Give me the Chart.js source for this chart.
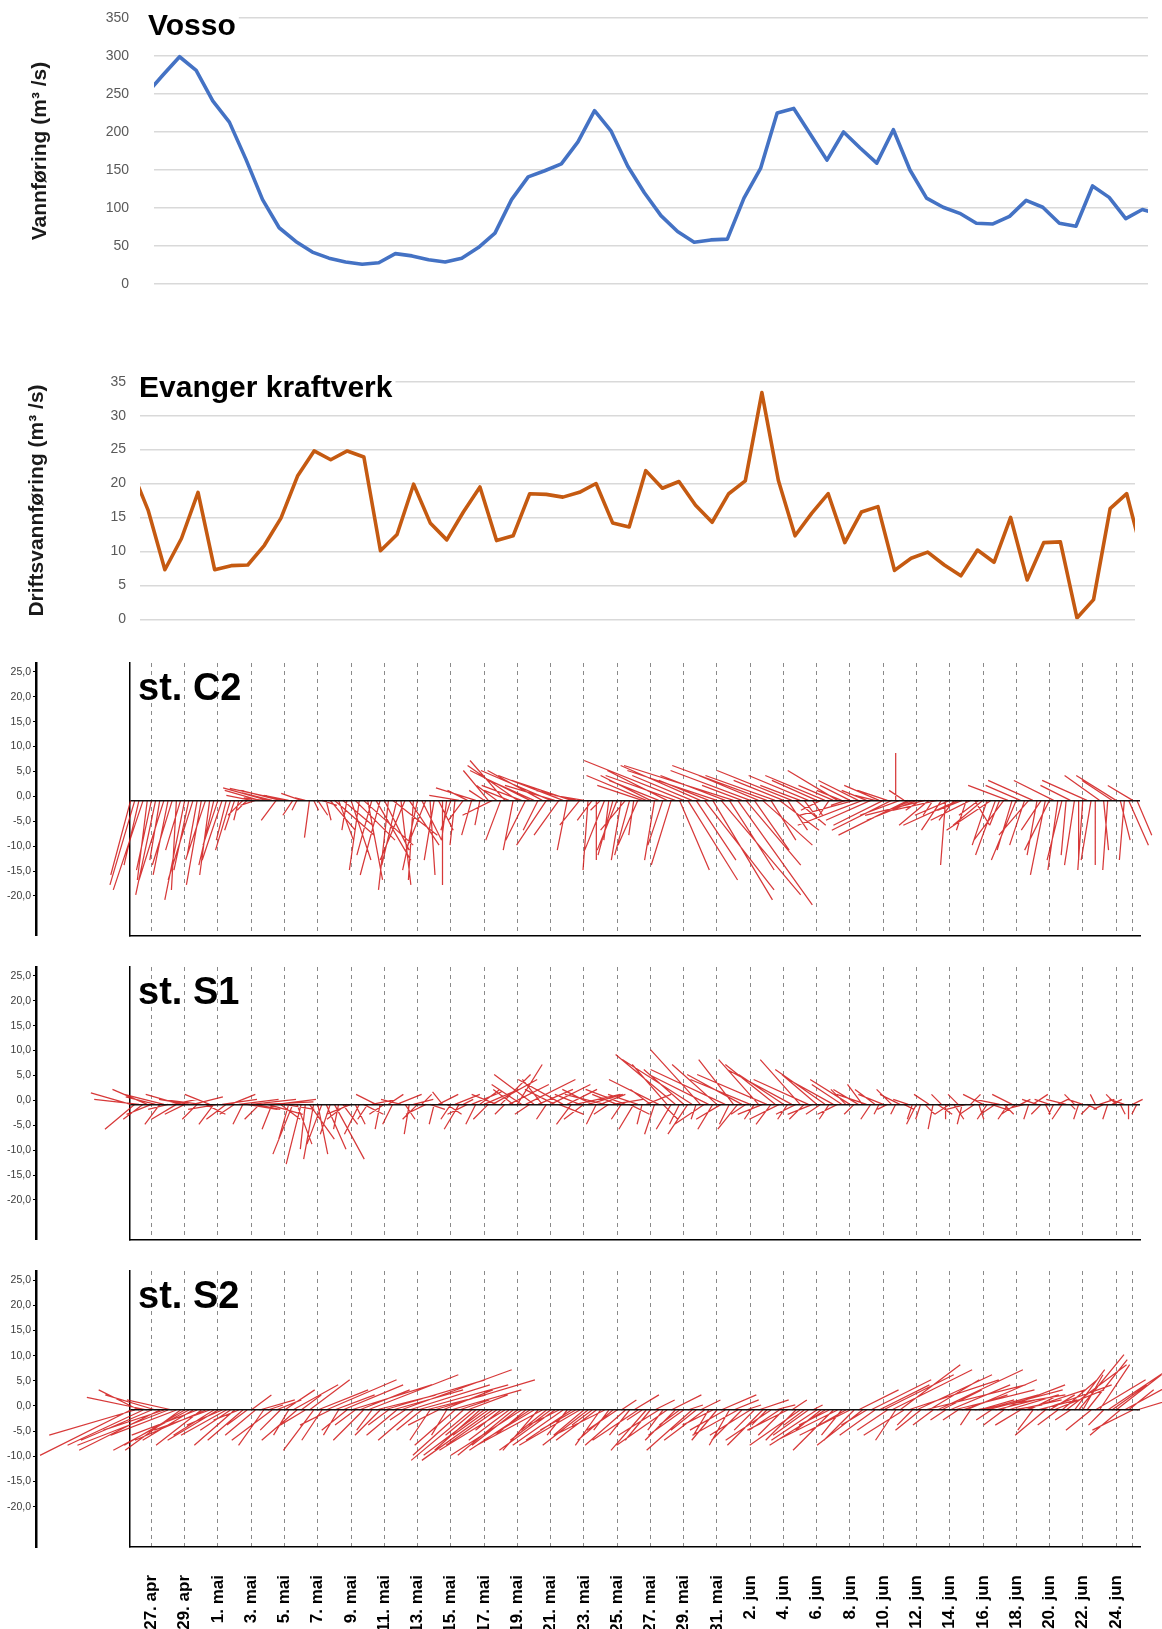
<!DOCTYPE html>
<html>
<head>
<meta charset="utf-8">
<script src="https://cdn.jsdelivr.net/npm/chart.js@4.4.1/dist/chart.umd.min.js"></script>
<style>
  html, body { margin: 0; padding: 0; background: #fff; }
  #page { position: relative; width: 1162px; height: 1629px; overflow: hidden; background: #fff; }
  #page canvas { position: absolute; left: 0; }
</style>
</head>
<body>
<div id="page">
  <canvas id="vosso" width="1162" height="300" style="top:0px"></canvas>
  <canvas id="evanger" width="1162" height="330" style="top:300px"></canvas>
  <canvas id="c2" width="1162" height="304" style="top:640px"></canvas>
  <canvas id="s1" width="1162" height="304" style="top:944px"></canvas>
  <canvas id="s2" width="1162" height="381" style="top:1248px"></canvas>
</div>
<script>
// ---- River discharge (daily values, day index -1 .. 60) ----
const vossoFlow = [250,275,299,281,241,213,164,111,74,56,42,34,29,26,28,40,37,32,29,34,48,67,111,141,149,158,187,228,201,155,120,90,69,55,58,59,113,152,225,231,197,163,200,179,159,203,150,113,101,93,80,79,89,110,101,80,76,129,114,86,98,92];
const evangerFlow = [22,16,7.3,11.9,18.7,7.3,7.9,8.0,10.9,14.9,21.1,24.8,23.5,24.8,23.9,10.1,12.5,19.9,14.2,11.7,15.8,19.5,11.6,12.3,18.5,18.4,18.0,18.7,20.0,14.2,13.6,21.9,19.3,20.3,16.8,14.3,18.5,20.4,33.4,20.4,12.3,15.6,18.5,11.3,15.8,16.6,7.2,9.0,9.9,8.0,6.4,10.2,8.4,15.0,5.8,11.3,11.4,0.2,2.9,16.3,18.5,9];
const flowDay = vossoFlow.map((_, i) => i - 1);

// ---- Current vectors [east, north], every 6 h from day -1.25 (day 0 = 27. apr) ----
const STICK_T0 = -1.25;
const STICK_STEP = 0.25;
const c2Current = [
  [-4,-15],[-5,-17],[-3,-13],[-6,-18],[-2,-16],
  [-3,-14],[-4,-19],[-2,-12],[-5,-16],[-3,-15],[-4,-13],[-1,-18],[-3,-10],
  [-4,-20],[-3,-14],[-5,-16],[-2,-11],[-3,-17],[-4,-12],[-2,-15],[-3,-13],
  [-3,-9],[-4,-12],[-2,-8],[-3,-10],[-2,-6],[-1,-4],[-3,-3],[-2,-2],
  [-5,1],[-3,-1],[-7,2],[-4,0.5],[-9,2.5],[-6,1.5],[-3,-4],[-8,2],
  [-11,2.4],[-5,1],[-2,-3],[-1,-2],[-4,1.4],[-2,0.5],[-1,-7.5],[1,-2],
  [2,-3],[3,-1],[1,-4],[5,-6],[8,-7],[3,-8],[6,-5],[-1,-6],
  [4,-12],[8,-8],[-2,-14],[10,-9],[3,-16],[-3,-11],[7,-12],[-4,-15],
  [5,-10],[-2,-18],[9,-7],[-3,-13],[2,-17],[-5,-12],[6,-9],[-1,-16],
  [-3,-14],[4,-8],[-4,-10],[1,-15],[-2,-12],[3,-6],[0,-17],[-1,-8],
  [-2,-6],[-1,-9],[-6,1],[-3,-4],[-4,2],[-2,-7],[-8,2.5],[-1,-5],
  [-3,2],[-5,6],[-6,-3],[-4,3],[-3,-8],[-7,8],[-5,2],[-2,-10],
  [-10,7],[-8,3],[-4,-8],[-12,6],[-9,4],[-3,-6],[-11,6],[-6,-9],
  [-14,6],[-10,3],[-5,-7],[-13,5],[-2,-10],[-12,4],[-8,2],[-4,-5],
  [-6,1],[-1,-14],[-3,-4],[0,-12],[-2,-2],[-4,-10],[-1,-8],[-3,-11],
  [-4,-10],[-2,-12],[-5,-6],[-3,-11],[-1,-7],[-4,-9],[-9,3],[-12,5],
  [-10,5],[-2,-12],[-10,4],[-3,-9],[-12,6],[-4,-13],[-14,5],[6,-14],
  [-20,8],[10,-16],[-12,5],[8,-12],[-16,7],[14,-18],[-10,4],[12,-20],
  [-18,6],[16,-19],[-13,5],[9,-14],[-22,7],[15,-21],[-8,3],[11,-13],
  [-16,6],[7,-10],[-12,5],[10,-9],[-19,7],[5,-8],[-14,5],[8,-6],
  [-10,4],[4,-6],[-15,6],[6,-5],[-8,3],[3,-4],[-12,5],[2,-3],
  [-9,4],[-4,-2],[-12,5],[-2,-3],[-7,3],[-10,6],[-5,2],[-3,-1],
  [-6,3],[-11,-3],[-8,4],[-13,-5],[-5,2],[-9,-4],[-4,1],[-7,3],
  [-10,-5],[-6,2],[-12,-6],[0,9.5],[-8,-3],[-3,2],[-14,-7],[-5,-2],
  [-10,-4],[-3,-2],[-12,-3],[-6,-5],[-2,-3],[-9,-2],[-4,-6],[-1,-13],
  [-7,-3],[-3,-4],[-11,-5],[-5,-2],[-2,-6],[-8,-4],[3,-5],[-4,-3],
  [-6,-5],[-3,-9],[-9,-6],[-4,-11],[-2,-5],[-6,-8],[-8,3],[-3,-10],
  [-5,-12],[-7,3],[-3,-9],[-6,-7],[-9,4],[-2,-11],[-4,-6],[-3,-15],
  [-5,-10],[-8,4],[-2,-14],[-3,-12],[-1,-11],[-6,3],[-2,-13],[0,-12],
  [-1,-14],[-9,4],[-2,-12],[0,-13],[-7,5],[1,-10],[-1,-14],[-6,4],
  [-8,5],[2,-8],[-1,-12],[4,-9],[-5,3],[3,-7]
];
const s1Current = [
  [-8,2.3],[-6,-5],[-9,1],[-4,-3],[-7,3],
  [-5,-2],[-6,1.5],[-3,-4],[-8,2],[-4,-1],[5,1],[-5,-3],[-7,2],
  [-4,-2],[-6,1],[6,1.5],[-3,-3],[-8,1],[4,-2],[-5,2],[-3,-4],
  [-6,-1],[7,1],[-4,-3],[5,2],[-3,-2],[8,1],[-2,-4],[6,-1],
  [9,1],[5,-1],[-3,-3],[10,0.5],[7,-2],[-2,-5],[8,1],[4,-3],
  [6,-1],[-2,-7],[-4,-10],[3,-8],[-3,-12],[-1,-9],[5,-7],[-2,-11],
  [2,-10],[-3,-8],[4,-9],[-2,-6],[6,-11],[-1,-5],[3,-4],[-4,-3],
  [-5,-2],[2,-4],[-3,-6],[4,-2],[-2,-3],[5,1],[-4,2],[-1,-5],
  [-3,-2],[3,2],[-2,-4],[5,2],[-4,1],[2,-3],[-1,-6],[4,1],
  [-3,-3],[2,2],[-4,-2],[3,-1],[-1,-4],[4,2],[-2,2.5],[3,-2],
  [-2,-3],[5,2],[-3,-5],[2,1],[-4,-2],[6,2.5],[-2,-4],[4,3],
  [7,3],[-3,-3],[9,5],[-5,2],[6,6],[-2,-2],[8,4],[-4,3],
  [5,8],[-6,4],[10,5],[-3,-2],[-8,6],[7,3],[-4,5],[-2,-3],
  [8,4],[-6,3],[5,-2],[-9,5],[6,3],[-3,-4],[9,2],[-5,2],
  [-4,-3],[7,2],[-6,3],[-2,-4],[5,2],[-8,2],[-3,-2],[6,1],
  [-5,2],[-2,-3],[-8,3],[4,-2],[-3,-5],[-6,2],[-1,-4],[5,2],
  [-4,3],[-2,-6],[-10,5],[3,-3],[-7,8],[-3,-5],[-12,10],[-2,-4],
  [-8,7],[-4,-6],[-14,9],[-1,-3],[-10,11],[-6,-4],[-12,6],[-3,-5],
  [-9,8],[-5,-3],[-15,7],[-2,-4],[-7,9],[-4,-5],[-11,6],[-3,-2],
  [-12,5],[-2,-3],[-8,9],[-5,-2],[-14,6],[-3,-4],[-10,8],[-6,-3],
  [-9,6],[-2,-3],[-13,7],[-4,-2],[-8,9],[-3,-3],[-11,5],[-5,-2],
  [-7,6],[-3,-2],[-10,7],[-2,-3],[-9,5],[-4,-2],[-6,4],[-3,3],
  [-8,5],[-2,-2],[-5,3],[-3,4],[-6,2],[-2,-3],[-4,3],[-1,-2],
  [-5,2],[-2,-1],[-3,3],[-1,-2],[-4,2],[2,-1],[-3,1],[-1,-3],
  [-2,-4],[-1,-3],[2,-2],[-3,2],[-1,-5],[3,-2],[-2,2],[0,-3],
  [-3,-2],[2,-3],[-2,2],[-1,-4],[-4,-1],[2,2],[-3,-2],[1,-3],
  [-4,2],[-2,-3],[3,-1],[-3,-2],[-5,1],[2,-2],[-2,-3],[-4,2],
  [-3,-2],[2,1],[-4,-1],[-1,-3],[3,2],[-3,1],[-2,-2],[1,-2],
  [-3,1],[-1,-2],[2,1],[-2,-3],[-4,1],[1,-1],[-2,2],[-1,-3],
  [-3,1],[2,-1],[-2,-2],[-1,2],[3,1],[-2,-1],[-1,-3],[2,1],
  [-2,2],[1,-2],[-3,1],[0,-3],[2,1],[-1,-2]
];
const s2Current = [
  [-18,-9],[-17,-5],[-8,4],[-15,-7],[-12,2.5],
  [-14,-6],[-10,3],[-16,-8],[-12,-4],[-18,-7],[-9,2],[-13,-5],[-11,-8],
  [-12,-7],[-15,-8],[-10,-6],[-13,-5],[-9,-7],[-14,-6],[-11,-4],[-8,-5],
  [-10,-6],[-7,-3],[-9,-5],[-6,-4],[-8,-7],[-5,-2],[-7,-6],[-4,-3],
  [4,3],[-6,-5],[7,2],[-5,-7],[3,1],[-8,-6],[5,2],[-4,-4],
  [6,4],[-3,-5],[9,5],[-7,-6],[4,3],[-5,-3],[8,6],[-6,-8],
  [10,4],[-4,-6],[14,6],[-6,-3],[8,3],[-3,-5],[12,5],[-5,-4],
  [16,5],[-4,-3],[10,4],[-6,-6],[18,7],[-3,-4],[12,3],[-5,-5],
  [20,6],[-4,-3],[14,4],[-6,-5],[22,8],[-3,-2],[16,5],[-7,-6],
  [18,5],[-5,-4],[12,3],[-4,-6],[20,6],[-6,-3],[10,4],[-3,-5],
  [14,4],[-8,-7],[6,2],[-10,-9],[8,3],[-12,-10],[-6,-5],[-9,-8],
  [-12,-9],[-7,-5],[-14,-10],[-10,-7],[-5,-4],[-13,-8],[-8,-6],[-11,-9],
  [-9,-7],[-14,-9],[-6,-5],[-12,-8],[-10,-6],[-7,-8],[-13,-7],[-5,-4],
  [-8,-6],[-11,-8],[-6,-3],[-10,-7],[-4,-5],[-9,-6],[-7,-4],[-12,-7],
  [-6,-5],[-9,-7],[-4,-3],[-8,-6],[-5,-7],[-10,-5],[-3,-4],[-7,-6],
  [-6,-4],[3,2],[-8,-7],[-4,-5],[5,3],[-9,-6],[-3,-2],[-7,-8],
  [-5,-6],[4,2],[-8,-5],[-3,-4],[-10,-7],[6,3],[-6,-6],[-4,-3],
  [-7,-5],[3,1],[-9,-8],[-5,-4],[4,2],[-8,-6],[-3,-5],[-6,-3],
  [-5,-6],[7,3],[-7,-4],[-4,-7],[5,2],[-9,-5],[-6,-6],[3,1],
  [-8,-5],[-4,-4],[6,2],[-7,-7],[-3,-3],[-9,-6],[4,1],[-6,-4],
  [-5,-5],[-8,-4],[3,2],[-6,-6],[-10,-7],[-4,-3],[-7,-5],[2,1],
  [-9,-6],[-5,-4],[-11,-7],[-6,-3],[-8,-8],[-12,-6],[-4,-5],[-7,-4],
  [-10,-5],[-6,-6],[8,4],[-9,-7],[-5,-3],[12,6],[-7,-5],[10,5],
  [14,7],[-6,-4],[16,8],[-4,-6],[12,9],[-8,-5],[18,6],[-3,-3],
  [15,7],[-5,-4],[20,5],[10,6],[-4,-3],[17,8],[8,4],[-3,-2],
  [12,5],[16,4],[-3,-2],[9,3],[14,6],[-2,-3],[18,3],[7,2],
  [11,3],[15,4],[-3,-2],[8,2],[13,5],[-4,-3],[10,3],[6,1],
  [9,2],[-5,-3],[12,4],[6,3],[-3,-4],[8,2],[14,5],[-6,-5],
  [5,3],[10,4],[-4,-3],[7,6],[12,9],[-3,-2],[6,8],[9,11],
  [4,7],[8,10],[-5,-4],[10,6],[6,9],[-3,-3],[12,8],[7,5],
  [9,7],[-6,-5],[11,6],[5,4],[-8,-4],[10,3]
];

// ---- Date axis labels, every second day from 27. apr ----
const stickDateLabels = ['27. apr','29. apr','1. mai','3. mai','5. mai','7. mai','9. mai','11. mai','13. mai','15. mai','17. mai','19. mai','21. mai','23. mai','25. mai','27. mai','29. mai','31. mai','2. jun','4. jun','6. jun','8. jun','10. jun','12. jun','14. jun','16. jun','18. jun','20. jun','22. jun','24. jun'];
const stickAxisTicks = [-20,-15,-10,-5,0,5,10,15,20,25];

const FONT = '"Liberation Sans", Arial, Helvetica, sans-serif';
Chart.defaults.font.family = FONT;

// Bold panel heading, optionally knocking out the grid line behind it
const panelTitle = {
  id: 'panelTitle',
  afterDraw(chart, args, o) {
    if (!o || !o.text) return;
    const ctx = chart.ctx;
    ctx.save();
    ctx.font = `bold ${o.size}px ${FONT}`;
    if (o.clear) {
      const w = ctx.measureText(o.text).width;
      ctx.fillStyle = '#fff';
      ctx.fillRect(chart.chartArea.left, o.y - o.size * 0.8, o.x - chart.chartArea.left + w + 3, o.size);
    }
    ctx.fillStyle = '#000';
    ctx.textBaseline = 'alphabetic';
    ctx.textAlign = 'left';
    ctx.fillText(o.text, o.x, o.y);
    ctx.restore();
  }
};

function flowChart(id, values, cfg) {
  return new Chart(document.getElementById(id), {
    type: 'line',
    data: {
      datasets: [{
        data: values.map((v, i) => ({ x: flowDay[i], y: v })),
        borderColor: cfg.color,
        borderWidth: 3.6,
        pointRadius: 0,
        tension: 0,
        borderJoinStyle: 'round',
        borderCapStyle: 'round'
      }]
    },
    options: {
      responsive: false,
      animation: false,
      devicePixelRatio: 1,
      events: [],
      layout: { padding: { left: 0, top: cfg.top, right: cfg.right, bottom: cfg.bottom } },
      plugins: {
        legend: { display: false },
        tooltip: { enabled: false },
        panelTitle: { text: cfg.title, x: cfg.titleX, y: cfg.titleY, size: 30, clear: true }
      },
      scales: {
        x: { type: 'linear', display: false, min: cfg.xMin, max: cfg.xMax },
        y: {
          min: 0, max: cfg.yMax,
          ticks: { stepSize: cfg.step, color: '#595959', font: { size: 14 }, padding: 0 },
          // invisible tick marks keep the labels clear of the plot edge
          grid: { color: '#d9d9d9', lineWidth: 1.4, drawTicks: true, tickLength: cfg.labelGap, tickColor: 'rgba(0,0,0,0)' },
          border: { display: false },
          title: {
            display: true, text: cfg.yTitle, color: '#1a1a1a',
            font: { size: 21, weight: 'bold' },
            padding: { top: cfg.yTitleX - 12.6, bottom: 0 }
          },
          afterFit: (s) => { s.width = cfg.left; }
        }
      }
    },
    plugins: [panelTitle]
  });
}

flowChart('vosso', vossoFlow, {
  color: '#4472C4', top: 18, bottom: 16, left: 154, right: 14,
  xMin: -0.54, xMax: 59.34, yMax: 350, step: 50, labelGap: 25,
  yTitle: 'Vannføring (m³ /s)', yTitleX: 40,
  title: 'Vosso', titleX: 148, titleY: 35
});

flowChart('evanger', evangerFlow, {
  color: '#C55A11', top: 81.7, bottom: 10.7, left: 140, right: 27,
  xMin: -0.5, xMax: 59.5, yMax: 35, step: 5, labelGap: 14,
  yTitle: 'Driftsvannføring (m³ /s)', yTitleX: 37.5,
  title: 'Evanger kraftverk', titleX: 139, titleY: 97
});

// ---- Current stick plots ----
const BASE = -0.8;       // level of the zero line on the velocity axis
const V_MIN = -28, V_MAX = 26.8;
const T_MIN = -1.29, T_MAX = 59.44;

function stickChart(id, vectors, title, showDates) {
  const canvas = document.getElementById(id);
  const xHeight = showDates ? canvas.height - 299 : 0;
  const chart = new Chart(canvas, {
    type: 'line',
    data: {
      datasets: [{
        data: [],
        xAxisID: 'x', yAxisID: 'y',
        borderColor: 'rgba(208,22,22,0.85)',
        borderWidth: 1.25,
        pointRadius: 0,
        tension: 0,
        spanGaps: false,
        clip: false,
        normalized: false
      }]
    },
    options: {
      responsive: false,
      animation: false,
      devicePixelRatio: 1,
      events: [],
      layout: { padding: { left: 0, top: 23, right: 22, bottom: showDates ? 0 : 5 } },
      plugins: {
        legend: { display: false },
        tooltip: { enabled: false },
        panelTitle: { text: title, x: 138, y: 60, size: 38 }
      },
      scales: {
        x: {
          type: 'linear', min: T_MIN, max: T_MAX,
          afterBuildTicks: (s) => {
            const t = stickDateLabels.map((_, i) => ({ value: i * 2 }));
            t.push({ value: 59 });
            s.ticks = t;
          },
          ticks: {
            display: showDates, autoSkip: false, maxRotation: 90, minRotation: 90,
            color: '#000', font: { size: 17, weight: 'bold' }, padding: 0,
            callback: (v) => (Number.isInteger(v / 2) && stickDateLabels[v / 2]) ? stickDateLabels[v / 2] : ''
          },
          // transparent tick marks set the gap between the frame and the date labels
          grid: { color: '#8a8a8a', lineWidth: 1, drawTicks: showDates, tickLength: 28, tickColor: 'rgba(0,0,0,0)' },
          border: { display: true, color: '#000', width: 1.5, dash: [4, 4] },
          afterFit: (s) => { s.height = xHeight; }
        },
        y: {
          position: 'left', weight: 1, min: V_MIN, max: V_MAX,
          afterBuildTicks: (s) => { s.ticks = stickAxisTicks.map(v => ({ value: v })); },
          ticks: {
            color: '#3a3a3a', font: { size: 10.5 }, padding: 2,
            callback: (v) => v.toFixed(1).replace('.', ',')
          },
          grid: { drawOnChartArea: false, drawTicks: true, tickLength: 3, color: '#000', lineWidth: 1 },
          border: { display: true, color: '#000', width: 2.5 },
          afterFit: (s) => { s.width = 36; }
        },
        yFrame: {
          position: 'left', weight: 0, min: V_MIN, max: V_MAX,
          afterBuildTicks: (s) => { s.ticks = [{ value: BASE }]; },
          ticks: { display: false },
          grid: { drawOnChartArea: true, drawTicks: false, color: '#111', lineWidth: 1.6, z: 1 },
          border: { display: true, color: '#000', width: 1.5 },
          afterFit: (s) => { s.width = 94; }
        }
      }
    },
    plugins: [panelTitle]
  });

  // Each stick starts on the zero line at its time and points along the current;
  // the east component uses the same pixel length per unit as the vertical axis.
  const xs = chart.scales.x, ys = chart.scales.y;
  const pxPerUnit = ys.getPixelForValue(0) - ys.getPixelForValue(1);
  const pts = [];
  vectors.forEach(([east, north], i) => {
    const t = STICK_T0 + i * STICK_STEP;
    const tEnd = xs.getValueForPixel(xs.getPixelForValue(t) + east * pxPerUnit);
    pts.push({ x: t, y: BASE }, { x: tEnd, y: BASE + north }, { x: t, y: null });
  });
  chart.data.datasets[0].data = pts;
  chart.update('none');
  return chart;
}

stickChart('c2', c2Current, 'st. C2', false);
stickChart('s1', s1Current, 'st. S1', false);
stickChart('s2', s2Current, 'st. S2', true);
</script>
</body>
</html>
